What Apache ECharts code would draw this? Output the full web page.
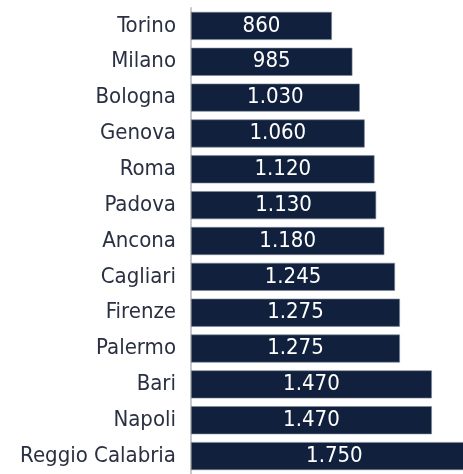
<!DOCTYPE html>
<html>
<head>
<meta charset="utf-8">
<script src="https://cdn.jsdelivr.net/npm/echarts@6/dist/echarts.min.js"></script>
<style>
  html, body { margin: 0; padding: 0; background: #fff; }
  #main { width: 463px; height: 474px; }
</style>
</head>
<body>
<div id="main"></div>
<script type="text/javascript">
    // città, dall'alto verso il basso
    var cities = ['Torino', 'Milano', 'Bologna', 'Genova', 'Roma', 'Padova', 'Ancona',
                  'Cagliari', 'Firenze', 'Palermo', 'Bari', 'Napoli', 'Reggio Calabria'];
    var values = [860, 985, 1030, 1060, 1120, 1130, 1180, 1245, 1275, 1275, 1470, 1470, 1750];

    function fmt(v) {
        return String(v).replace(/\B(?=(\d{3})+(?!\d))/g, '.');
    }

    var font = '"DejaVu Sans Condensed", "Liberation Sans Narrow", sans-serif';

    var myChart = echarts.init(document.getElementById('main'));
    var option = {
        animation: false,
        grid: { left: 191, top: 8, right: 0, height: 470 },
        xAxis: {
            type: 'value',
            min: 0,
            max: 1660,
            show: false
        },
        yAxis: {
            type: 'category',
            inverse: true,
            data: cities,
            axisLine: { show: true, lineStyle: { color: '#c9c9c9', width: 2 } },
            axisTick: { show: false },
            axisLabel: {
                margin: 15,
                fontSize: 22,
                fontFamily: font,
                color: '#2a3042'
            }
        },
        series: [{
            type: 'bar',
            data: values,
            barWidth: 28,
            clip: false,
            itemStyle: { color: '#11213d', borderColor: '#7d879a', borderWidth: 0.6 },
            label: {
                show: true,
                position: 'inside',
                formatter: function (p) { return fmt(p.value); },
                fontSize: 22,
                fontFamily: font,
                color: '#ffffff'
            }
        }]
    };
    myChart.setOption(option);
</script>
</body>
</html>
